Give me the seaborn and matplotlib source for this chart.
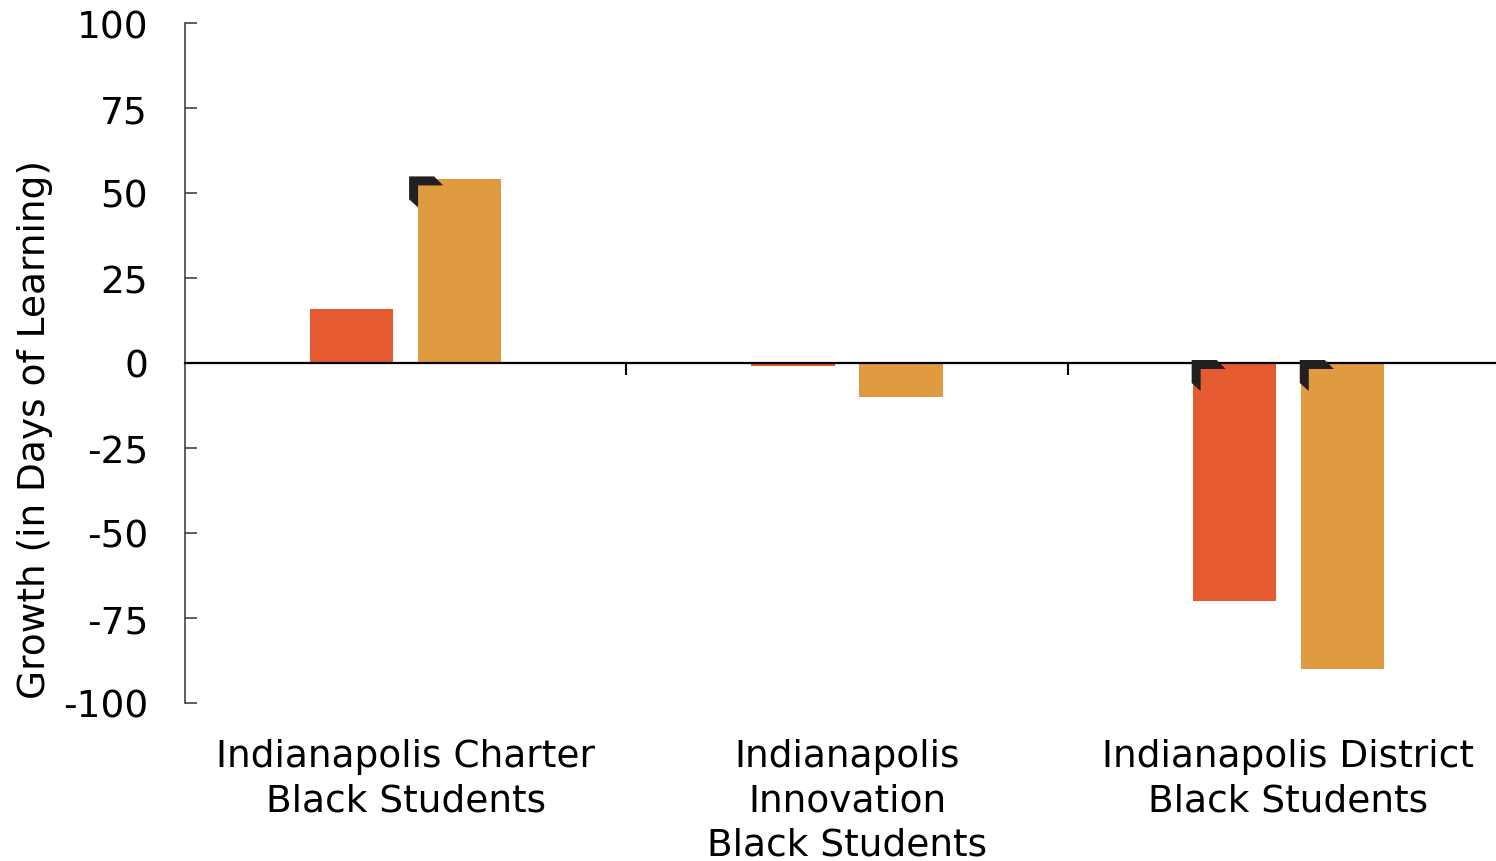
import numpy as np
import pandas as pd
import matplotlib
matplotlib.use("Agg")
import matplotlib.pyplot as plt
import matplotlib.transforms as mtransforms
from matplotlib.patches import Polygon
import seaborn as sns

# Growth for Black students, by school sector and subject
categories = [
    "Indianapolis Charter\nBlack Students",
    "Indianapolis\nInnovation\nBlack Students",
    "Indianapolis District\nBlack Students",
]
subjects = ["Reading", "Math"]
reading = [16, -1, -70]
math = [54, -10, -90]
# statistically significant results get a corner flag
reading_significant = [False, False, True]
math_significant = [True, False, True]

colors = {"Reading": "#E65A32", "Math": "#E09B40"}

df = pd.DataFrame({
    "Sector": categories * 2,
    "Subject": [subjects[0]] * 3 + [subjects[1]] * 3,
    "Growth": reading + math,
})

sns.set_theme(style="white")
plt.rcParams["font.family"] = ["DejaVu Sans"]
plt.rcParams["axes.unicode_minus"] = False

fig = plt.figure(figsize=(14.96, 8.62), dpi=100)
ax = fig.add_axes([185 / 1496, 158 / 862, 1324 / 1496, 680 / 862])

sns.barplot(
    data=df, x="Sector", y="Growth", hue="Subject",
    order=categories, hue_order=subjects, palette=colors,
    width=0.49, gap=0.23, saturation=1, linewidth=0,
    errorbar=None, legend=False, ax=ax,
)

ax.set_xlim(-0.5, 2.5)
ax.set_ylim(-100, 100)
ax.set_yticks([-100, -75, -50, -25, 0, 25, 50, 75, 100])
ax.set_xticks([0.5, 1.5])
ax.set_xticklabels(["", ""])
ax.set_xlabel("")

for s in ("top", "right"):
    ax.spines[s].set_visible(False)
ax.spines["bottom"].set_position(("data", 0))
ax.spines["bottom"].set_color("black")
ax.spines["bottom"].set_linewidth(1.6)
ax.spines["bottom"].set_zorder(4)
ax.spines["left"].set_color("#333333")
ax.spines["left"].set_linewidth(1.1)

ax.tick_params(axis="y", direction="in", length=8.6, width=1.1,
               color="#333333", pad=26.6, labelsize=27, labelcolor="black",
               left=True)
ax.tick_params(axis="x", direction="out", length=8.6, width=1.5,
               color="black", labelbottom=False, bottom=True)

ax.set_ylabel("Growth (in Days of Learning)", fontsize=27, color="black")
ax.yaxis.set_label_coords(-0.0997, 0.403)

# category labels below the plotting area
label_trans = mtransforms.blended_transform_factory(ax.transData, ax.transAxes)
for i, name in enumerate(categories):
    ax.text(i, -0.052, name, transform=label_trans, ha="center", va="top",
            fontsize=27, color="black", multialignment="center",
            linespacing=1.29, clip_on=False)

# corner flags on significant bars (shape in pixels, y measured downward)
flag_shape = np.array([(0, 0), (25, 0), (34, 9), (9, 9), (9, 31), (0, 23)], float)
px = 1 / fig.dpi
significance = {"Reading": reading_significant, "Math": math_significant}
for subject, container in zip(subjects, ax.containers):
    flags = significance[subject]
    for bar in container:
        idx = int(round(bar.get_x() + bar.get_width() / 2))
        if not flags[idx]:
            continue
        x0 = bar.get_x()
        top = max(bar.get_y(), bar.get_y() + bar.get_height())
        dx = -9 if bar.get_height() > 0 else -1
        verts = np.column_stack([(flag_shape[:, 0] + dx) * px,
                                 (3 - flag_shape[:, 1]) * px])
        trans = fig.dpi_scale_trans + mtransforms.ScaledTranslation(x0, top, ax.transData)
        ax.add_patch(Polygon(verts, closed=True, transform=trans,
                             facecolor="#231F20", edgecolor="none",
                             zorder=6, clip_on=False))

fig.savefig("out.png", dpi=100)
